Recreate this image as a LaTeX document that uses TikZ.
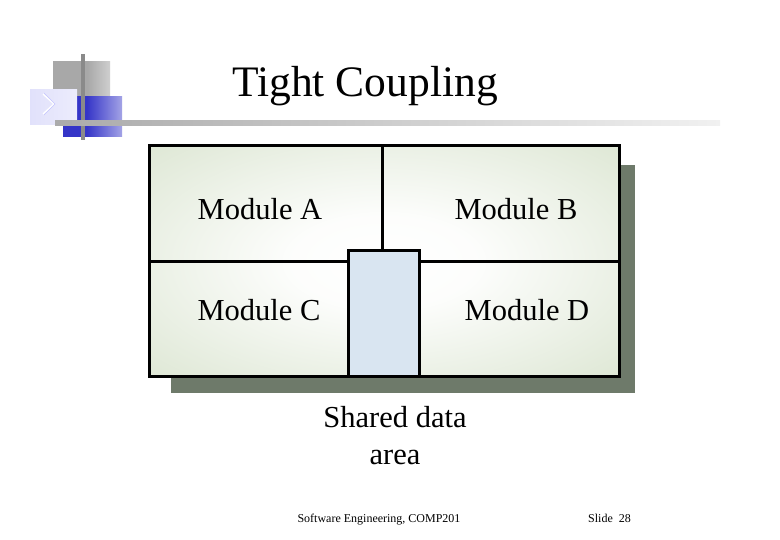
\documentclass[tikz,border=0pt]{standalone}
\usepackage{fontspec}
\setmainfont{Liberation Serif}
\definecolor{shadowc}{HTML}{6E7A6A}
\definecolor{cellg}{HTML}{CDDBBF}
\definecolor{sharedc}{HTML}{D9E5F1}
\definecolor{logoblue}{HTML}{3535C8}
\definecolor{logolav}{HTML}{DCDCFA}
\definecolor{logogray}{HTML}{A8A8A8}
\definecolor{linegray}{HTML}{8A8A8A}
\pgfdeclareradialshading{cellshade}{\pgfpoint{0bp}{0bp}}{color(0bp)=(white); color(10bp)=(white!95!cellg); color(50bp)=(cellg); color(80bp)=(cellg)}
\pgfdeclarehorizontalshading{fadegray}{100bp}{color(0bp)=(logogray); color(55bp)=(logogray); color(100bp)=(white)}
\pgfdeclarehorizontalshading{fadeblue}{100bp}{color(0bp)=(logoblue); color(45bp)=(logoblue); color(100bp)=(white)}
\pgfdeclarehorizontalshading{fadelav}{100bp}{color(0bp)=(logolav); color(100bp)=(white!60!logolav)}
\pgfdeclarehorizontalshading{fadeline}{100bp}{color(0bp)=(linegray); color(40bp)=(linegray!55); color(75bp)=(linegray!12); color(100bp)=(white)}
\tikzset{
  frame/.style={draw=black, line width=3pt},
  divider/.style={draw=black, line width=3pt},
  modlabel/.style={font=\fontsize{30.5}{34}\selectfont, inner sep=0pt},
  footer/.style={font=\fontsize{12}{14}\selectfont, inner sep=0pt, anchor=base},
}
\begin{document}
\begin{tikzpicture}[x=1pt,y=-1pt]
\useasboundingbox (0,0) rectangle (780,540);
\fill[white] (0,0) rectangle (780,540);
% logo
\shade[shading=fadegray] (53,62) rectangle (110,97);
\shade[shading=fadeblue] (63,97) rectangle (122,137);
\shade[shading=fadelav] (30,90) rectangle (77,125);
\draw[white, line width=1.4pt] (43,94) -- (54,104) -- (43,114);
\draw[logolav!50!blue!40, line width=0.5pt] (44,93) -- (55,104) -- (44,115);
\fill[linegray] (81,54) rectangle (85,140);
\shade[shading=fadeline] (55,121) rectangle (720,126);
% title
\node[font=\fontsize{43.5}{48}\selectfont, inner sep=0pt, anchor=base] (title) at (365,97) {Tight Coupling};
% shadow and main box
\fill[shadowc] (171,165) rectangle (635,393);
\shade[shading=cellshade] (149,146) rectangle (619,377);
\coordinate (tl) at (149,146);
\coordinate (br) at (619,377);
\coordinate (vtop) at (382,146);
\coordinate (vbot) at (382,252);
\coordinate (hl) at (149,262);
\coordinate (hlm) at (348,262);
\coordinate (hrm) at (419,262);
\coordinate (hr) at (619,262);
\draw[divider] (vtop) -- (vbot);
\draw[divider] (hl) -- (hlm);
\draw[divider] (hrm) -- (hr);
\node[draw=black, line width=3pt, outer sep=0pt, fill=sharedc, minimum width=71pt, minimum height=126pt, inner sep=0pt, anchor=north west] (shared) at (348,251) {};
\draw[frame] (tl) rectangle (br);
% labels
\node[modlabel] (ma) at (260,209) {Module A};
\node[modlabel] (mb) at (516,209) {Module B};
\node[modlabel] (mc) at (259,310) {Module C};
\node[modlabel] (md) at (527,310) {Module D};
\node[font=\fontsize{30.5}{37}\selectfont, align=center, inner sep=0pt] (sharedlbl) at (395,436) {Shared data\\area};
% footer
\node[footer] (foot) at (379,522) {Software Engineering, COMP201};
\node[footer] (slide) at (609.5,522) {Slide\ \ 28};
\end{tikzpicture}
\end{document}
